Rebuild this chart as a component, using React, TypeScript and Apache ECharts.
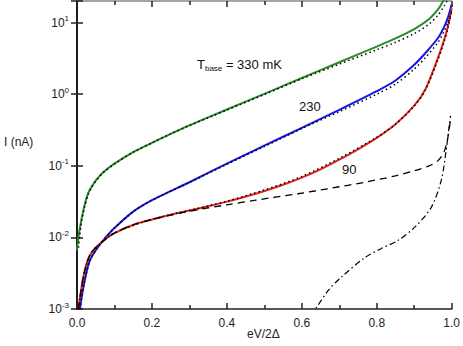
import React, { useEffect, useRef } from "react";
import * as echarts from "echarts";

const FONT = "Liberation Sans, Arial, sans-serif";

const xTicks = [0, 0.2, 0.4, 0.6, 0.8, 1.0];
const yDecades = [0.001, 0.01, 0.1, 1, 10];

const green330: [number, number][] = [
  [0.0, 0.0066], [0.005, 0.011], [0.012, 0.018], [0.02, 0.028], [0.028, 0.039], [0.035, 0.047],
  [0.05, 0.062], [0.07, 0.081], [0.1, 0.107], [0.15, 0.155], [0.2, 0.209], [0.25, 0.279],
  [0.3, 0.367], [0.4, 0.61], [0.5, 1.01], [0.6, 1.68], [0.7, 2.79], [0.8, 4.62], [0.85, 6.0],
  [0.9, 8.1], [0.94, 11.2], [0.963, 15.1], [0.975, 19], [0.985, 24],
];
const blue230: [number, number][] = [
  [0.008, 0.001], [0.012, 0.00141], [0.017, 0.002], [0.025, 0.0032], [0.034, 0.0047],
  [0.05, 0.0066], [0.07, 0.0091], [0.1, 0.0135], [0.15, 0.0229], [0.2, 0.0331], [0.25, 0.0442],
  [0.3, 0.0589], [0.4, 0.107], [0.5, 0.191], [0.6, 0.339], [0.7, 0.603], [0.8, 1.1],
  [0.85, 1.55], [0.9, 2.57], [0.93, 3.76], [0.963, 6.03], [0.98, 8.71], [0.99, 11.7], [1.0, 17.8],
];
const red90: [number, number][] = [
  [0.004, 0.001], [0.01, 0.0017], [0.017, 0.0028], [0.025, 0.0042], [0.034, 0.0056],
  [0.05, 0.0072], [0.07, 0.009], [0.1, 0.0115], [0.158, 0.0155], [0.2, 0.0178], [0.25, 0.0207],
  [0.3, 0.0237], [0.35, 0.0272], [0.4, 0.0316], [0.477, 0.0407], [0.55, 0.0543], [0.6, 0.0684],
  [0.65, 0.0891], [0.7, 0.1216], [0.75, 0.17], [0.8, 0.245], [0.85, 0.38], [0.9, 0.69],
  [0.93, 1.17], [0.963, 3.16], [0.98, 5.75], [0.99, 8.9], [1.0, 15.8],
];
const fit330: [number, number][] = [
  [0.004, 0.0072], [0.012, 0.0165], [0.02, 0.026], [0.03, 0.04], [0.04, 0.051], [0.05, 0.061],
  [0.07, 0.08], [0.1, 0.106], [0.15, 0.155], [0.2, 0.209], [0.25, 0.279], [0.3, 0.365],
  [0.4, 0.6], [0.5, 0.99], [0.6, 1.64], [0.7, 2.63], [0.8, 4.17], [0.85, 5.3], [0.9, 7.0],
  [0.94, 9.55], [0.963, 12.6], [0.98, 17], [0.99, 21.4],
];
const fit230: [number, number][] = [
  [0.008, 0.001], [0.017, 0.002], [0.034, 0.0047], [0.05, 0.0066], [0.07, 0.0091],
  [0.1, 0.0135], [0.15, 0.0229], [0.2, 0.0331], [0.3, 0.0585], [0.4, 0.105], [0.5, 0.186],
  [0.6, 0.331], [0.7, 0.569], [0.8, 1.0], [0.85, 1.38], [0.9, 2.24], [0.93, 3.24], [0.963, 5.25],
  [0.98, 7.6], [0.99, 10], [1.0, 14.8],
];
const fit90: [number, number][] = [
  [0.004, 0.001], [0.017, 0.0028], [0.034, 0.0056], [0.05, 0.0072], [0.1, 0.0115],
  [0.2, 0.0178], [0.3, 0.0238], [0.4, 0.032], [0.5, 0.046], [0.6, 0.071], [0.7, 0.127],
  [0.8, 0.25], [0.85, 0.38], [0.9, 0.68], [0.93, 1.15], [0.963, 3.0], [0.98, 5.4], [0.99, 8.3],
  [1.0, 14.5],
];
const dashed: [number, number][] = [
  [0.004, 0.001], [0.017, 0.0028], [0.034, 0.0056], [0.05, 0.0072], [0.1, 0.0115],
  [0.158, 0.0155], [0.2, 0.0178], [0.25, 0.0204], [0.3, 0.0232], [0.4, 0.0285], [0.477, 0.0331],
  [0.59, 0.0407], [0.671, 0.0479], [0.768, 0.0589], [0.85, 0.0724], [0.9, 0.0851], [0.94, 0.1],
  [0.963, 0.117], [0.98, 0.158], [0.99, 0.25], [0.997, 0.45],
];
const dashDot: [number, number][] = [
  [0.625, 0.0008], [0.67, 0.0018], [0.706, 0.0028], [0.768, 0.0052], [0.81, 0.0069],
  [0.857, 0.0091], [0.901, 0.0138], [0.945, 0.026], [0.972, 0.062], [0.985, 0.16],
  [0.994, 0.38], [0.997, 0.5],
];

const isDecade = (v: number) => {
  const l = Math.log10(v);
  return Math.abs(l - Math.round(l)) < 1e-6;
};

export default function App() {
  const ref = useRef<HTMLDivElement>(null);
  useEffect(() => {
    document.body.style.margin = "0";
    const chart = echarts.init(ref.current!, null, { renderer: "svg" });
    const axisLine = { show: true, lineStyle: { color: "#222", width: 1.5 } };
    const line = (data: [number, number][], color: string, width: number, type: any, z: number) => ({
      type: "line",
      data,
      showSymbol: false,
      smooth: 0.3,
      clip: true,
      z,
      lineStyle: { color, width, type },
    });
    chart.setOption({
      animation: false,
      grid: { left: 77, right: 9, top: 1, bottom: 37 },
      xAxis: [
        {
          type: "value", min: 0, max: 1, interval: 0.2, position: "bottom",
          axisLine,
          axisTick: { inside: true, length: 6, lineStyle: { color: "#222", width: 1.5 } },
          minorTick: { show: true, splitNumber: 2, length: 4, lineStyle: { color: "#222", width: 1.5 } },
          splitLine: { show: false },
          axisLabel: {
            color: "#222", fontFamily: FONT, fontSize: 12, margin: 8,
            formatter: (v: number) => (xTicks.some((t) => Math.abs(t - v) < 1e-6) ? v.toFixed(1) : ""),
          },
        },
        {
          type: "value", min: 0, max: 1, interval: 0.2, position: "top",
          axisLine: { show: true, lineStyle: { color: "#888", width: 1.5 } },
          axisTick: { inside: true, length: 6, lineStyle: { color: "#222", width: 1.5 } },
          minorTick: { show: true, splitNumber: 2, length: 4, lineStyle: { color: "#222", width: 1.5 } },
          splitLine: { show: false },
          axisLabel: { show: false },
        },
      ],
      yAxis: [
        {
          type: "log", logBase: 10, min: 0.001, max: 20, position: "left",
          axisLine: { show: true, lineStyle: { color: "#111", width: 2 } },
          axisTick: { inside: true, length: 6, lineStyle: { color: "#222", width: 1.5 } },
          splitLine: { show: false },
          axisLabel: {
            color: "#222", fontFamily: FONT, fontSize: 12, margin: 8,
            formatter: (v: number) =>
              isDecade(v) && yDecades.some((d) => Math.abs(Math.log10(d) - Math.log10(v)) < 1e-6)
                ? `10{s|${Math.round(Math.log10(v))}}`
                : "",
            rich: {
              s: { fontSize: 8, fontFamily: FONT, color: "#222", padding: [0, 0, 8, 0] },
            },
          },
        },
        {
          type: "log", logBase: 10, min: 0.001, max: 20, position: "right",
          axisLine: { show: true, lineStyle: { color: "#222", width: 1.5 } },
          axisTick: { inside: true, length: 6, lineStyle: { color: "#222", width: 1.5 } },
          splitLine: { show: false },
          axisLabel: { show: false },
        },
      ],
      series: [
        line(green330, "#2a8a2a", 2, "solid", 2),
        line(blue230, "#1515e6", 2, "solid", 2),
        line(red90, "#e32222", 2, "solid", 2),
        line(fit330, "#000", 1.5, [1.5, 3], 3),
        line(fit230, "#000", 1.5, [1.5, 3], 3),
        line(fit90, "#000", 1.5, [1.5, 3], 3),
        line(dashed, "#000", 1.3, [7, 5], 3),
        line(dashDot, "#000", 1.2, [6, 3, 1.5, 3], 3),
      ],
      graphic: [
        {
          type: "text", left: 4, top: 136,
          style: { text: "I (nA)", fontFamily: FONT, fontSize: 12, fill: "#222" },
        },
        {
          type: "text", left: 247, top: 328,
          style: { text: "eV/2Δ", fontFamily: FONT, fontSize: 12, fill: "#222" },
        },
        {
          type: "text", left: 197, top: 58,
          style: {
            text: "T{b|base} = 330 mK",
            fontFamily: FONT, fontSize: 13, fill: "#111",
            rich: { b: { fontSize: 8, fontFamily: FONT, fill: "#111", padding: [8, 0, 0, 0] } },
          },
        },
        {
          type: "text", left: 299, top: 100,
          style: { text: "230", fontFamily: FONT, fontSize: 13, fill: "#111" },
        },
        {
          type: "text", left: 342, top: 163,
          style: { text: "90", fontFamily: FONT, fontSize: 13, fill: "#111" },
        },
      ],
    });
    return () => chart.dispose();
  }, []);
  return <div ref={ref} style={{ width: 463, height: 346 }} />;
}
